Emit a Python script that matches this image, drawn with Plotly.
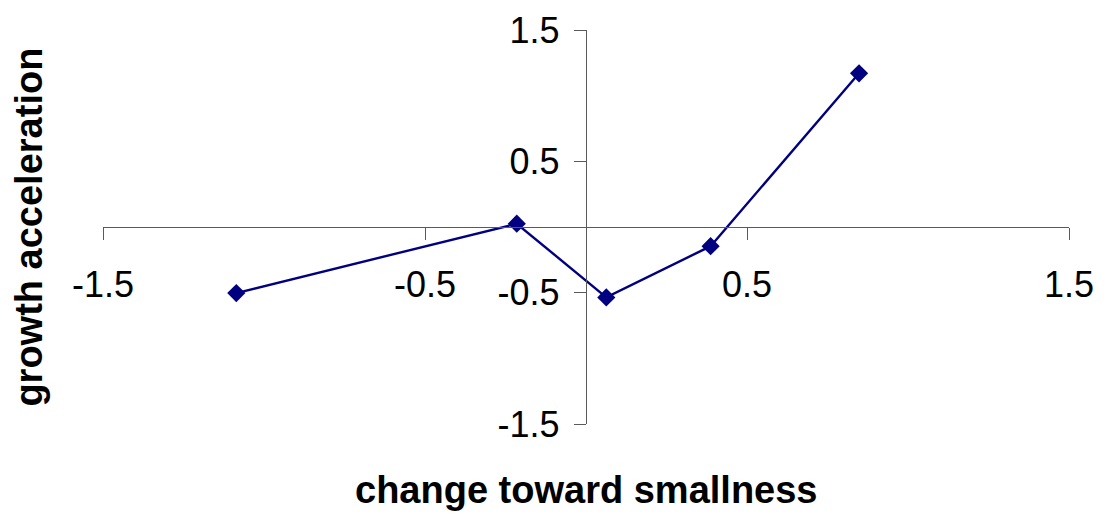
import plotly.graph_objects as go

# Data
change_toward_smallness = [-1.086, -0.215, 0.063, 0.387, 0.848]
growth_acceleration = [-0.503, 0.025, -0.536, -0.146, 1.17]

x_tick_vals = [-1.5, -0.5, 0.5, 1.5]
y_tick_vals = [-1.5, -0.5, 0.5, 1.5]
x_tick_text = ["-1.5", "-0.5", "0.5", "1.5"]
y_tick_text = ["-1.5", "-0.5", "0.5", "1.5"]

x_title = "change toward smallness"
y_title = "growth acceleration"

FONT = "Liberation Sans, Arial, sans-serif"
AXIS_COLOR = "#5a5a5a"
LINE_COLOR = "#000080"

fig = go.Figure()
fig.add_trace(go.Scatter(
    x=change_toward_smallness,
    y=growth_acceleration,
    mode="lines+markers",
    line=dict(color=LINE_COLOR, width=2.4),
    marker=dict(symbol="diamond", size=14, color=LINE_COLOR),
    showlegend=False,
    hoverinfo="x+y",
))

fig.update_layout(
    width=1105,
    height=506,
    margin=dict(l=95, r=44, t=22, b=90),
    paper_bgcolor="white",
    plot_bgcolor="white",
    font=dict(family=FONT, size=36, color="black"),
    xaxis=dict(
        range=[-1.5, 1.5],
        tickvals=x_tick_vals,
        ticktext=x_tick_text,
        showgrid=False,
        zeroline=False,
        showline=True,
        linecolor=AXIS_COLOR,
        linewidth=1.3,
        ticks="outside",
        ticklen=12,
        tickwidth=1.3,
        tickcolor=AXIS_COLOR,
        anchor="free",
        position=0.5,
        side="bottom",
        ticklabelstandoff=14,
        ticklabeloverflow="allow",
        automargin=False,
        tickfont=dict(family=FONT, size=36, color="black"),
    ),
    yaxis=dict(
        range=[-1.5, 1.5],
        tickvals=y_tick_vals,
        ticktext=y_tick_text,
        showgrid=False,
        zeroline=False,
        showline=True,
        linecolor=AXIS_COLOR,
        linewidth=1.3,
        ticks="outside",
        ticklen=12,
        tickwidth=1.3,
        tickcolor=AXIS_COLOR,
        anchor="free",
        position=0.5,
        side="left",
        ticklabelstandoff=7,
        ticklabeloverflow="allow",
        automargin=False,
        tickfont=dict(family=FONT, size=36, color="black"),
    ),
    annotations=[
        dict(
            text="<b>" + x_title + "</b>",
            xref="paper", yref="paper",
            x=0.5, y=-0.168,
            xanchor="center", yanchor="middle",
            showarrow=False,
            font=dict(family=FONT, size=38, color="black"),
        ),
        dict(
            text="<b>" + y_title + "</b>",
            xref="paper", yref="paper",
            x=-0.077, y=0.5,
            xanchor="center", yanchor="middle",
            textangle=-90,
            showarrow=False,
            font=dict(family=FONT, size=38, color="black"),
        ),
    ],
)

fig.write_html("out.html")
